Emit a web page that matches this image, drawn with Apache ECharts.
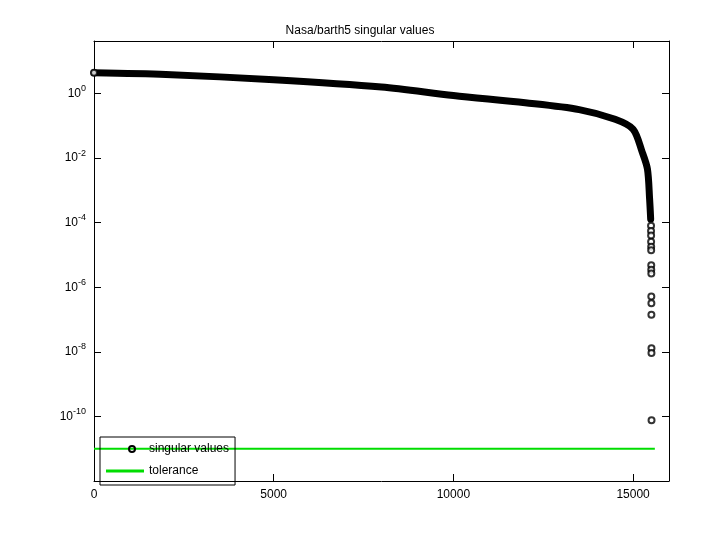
<!DOCTYPE html>
<html>
<head>
<meta charset="utf-8">
<script src="https://cdn.jsdelivr.net/npm/echarts@6/dist/echarts.min.js"></script>
<style>html,body{margin:0;padding:0;background:#fff}#chart{width:720px;height:540px}</style>
</head>
<body>
<div id="chart"></div>
<script>
// dense part of the singular value curve (index, value)
const curveIdx = [0, 2000, 5000, 8000, 10000, 12000, 13500, 14500, 15000, 15250, 15400, 15460, 15490];
const curveVal = [4.4, 3.9, 2.7, 1.6, 0.87, 0.52, 0.32, 0.16, 0.079, 0.016, 0.0046, 0.00055, 0.00013];
// isolated tail values near the end
const tailIdx = [15500, 15500, 15502, 15502, 15504, 15504, 15506, 15506, 15508, 15508, 15510, 15510, 15512, 15512, 15514];
const tailVal = [8.1e-5, 5.6e-5, 4.0e-5, 2.6e-5, 1.8e-5, 1.4e-5, 4.8e-6, 3.5e-6, 2.7e-6, 5.2e-7, 3.2e-7, 1.4e-7, 1.3e-8, 9.3e-9, 7.6e-11];
const tolerance = 1.0e-11;
const nMax = 15606;
const yTicks = [0, -2, -4, -6, -8, -10];

const lg = v => Math.log10(v);
const chart = echarts.init(document.getElementById('chart'));
const font = 'Liberation Sans, Arial, sans-serif';
const yLabel = {
  formatter: v => yTicks.includes(v) ? '{b|10}{s|' + v + '}' : '',
  rich: {
    b: { fontSize: 12, fontFamily: font, color: '#000' },
    s: { fontSize: 9, fontFamily: font, color: '#000', verticalAlign: 'top', padding: [0, 0, 10, 0] }
  }
};
const tick = { inside: true, length: 7, lineStyle: { color: '#000' } };
const line = { show: true, onZero: false, lineStyle: { color: '#000' } };
chart.setOption({
  animation: false,
  title: { text: 'Nasa/barth5 singular values', left: 'center', top: 20,
    textStyle: { fontSize: 12, fontWeight: 'normal', fontFamily: font, color: '#000' } },
  grid: { left: 94, right: 51, top: 41, bottom: 59 },
  xAxis: [
    { type: 'value', min: 0, max: 16000, interval: 5000, axisLine: line, axisTick: tick,
      axisLabel: { color: '#000', fontSize: 12, fontFamily: font, showMaxLabel: false, margin: 8, formatter: v => String(v) },
      splitLine: { show: false } },
    { type: 'value', position: 'top', min: 0, max: 16000, interval: 5000, axisLine: line, axisTick: tick,
      axisLabel: { show: false }, splitLine: { show: false } }
  ],
  yAxis: [
    { type: 'value', min: -12, max: 1.63, interval: 2, axisLine: line, axisTick: tick,
      axisLabel: yLabel, splitLine: { show: false } },
    { type: 'value', position: 'right', min: -12, max: 1.63, interval: 2, axisLine: line, axisTick: tick,
      axisLabel: { show: false }, splitLine: { show: false } }
  ],
  legend: {
    left: 100, top: 437, orient: 'vertical', itemGap: 10, itemWidth: 38, itemHeight: 8,
    borderColor: '#000', borderWidth: 1, borderRadius: 0, padding: [6, 6, 8, 6],
    textStyle: { fontSize: 12, fontFamily: font, color: '#000' },
    data: [
      { name: 'singular values', icon: 'path://M-16,0 A4,4 0 1,0 -8,0 A4,4 0 1,0 -16,0 Z M-14,0 A2,2 0 1,1 -10,0 A2,2 0 1,1 -14,0 Z M-30,0 L-29.9,0 Z' },
      { name: 'tolerance', icon: 'path://M0,0 L38,0 L38,3 L0,3 Z' }
    ]
  },
  series: [
    { name: 'singular values', type: 'line', symbol: 'none', z: 3, smooth: 0.3,
      lineStyle: { color: '#000', width: 7, cap: 'round', join: 'round' }, itemStyle: { color: '#000' },
      data: curveIdx.map((x, i) => [x, lg(curveVal[i])]) },
    { name: 'singular values', type: 'scatter', symbol: 'emptyCircle', symbolSize: 6, z: 4,
      itemStyle: { color: '#000', borderColor: '#000', borderWidth: 1.5 },
      data: tailIdx.map((x, i) => [x, lg(tailVal[i])]).concat([[curveIdx[0], lg(curveVal[0])]]) },
    { name: 'tolerance', type: 'line', symbol: 'none', z: 2,
      lineStyle: { color: '#00dd00', width: 2 }, itemStyle: { color: '#00dd00' },
      data: [[0, lg(tolerance)], [nMax, lg(tolerance)]] }
  ]
});
</script>
</body>
</html>
